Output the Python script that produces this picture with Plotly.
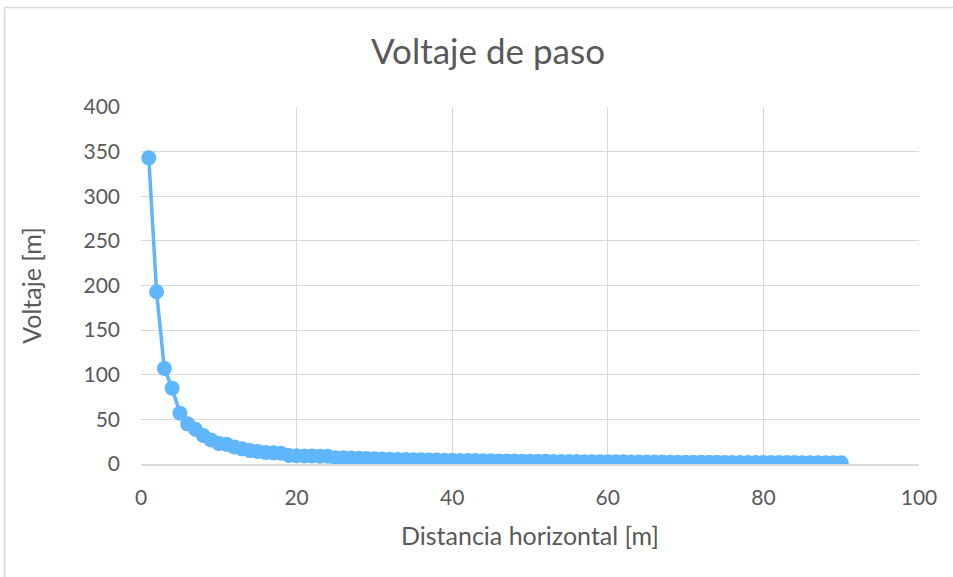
import plotly.graph_objects as go

distancia = list(range(1, 91))
voltaje = [
    343, 193, 107, 85, 57, 45, 39, 32, 27, 23,
    22, 19, 17, 15, 14, 13, 12.5, 12, 9.5, 9.2,
    9.0, 9.0, 8.8, 8.6, 7.0, 6.9, 6.7, 6.5, 6.3, 6.0,
    5.6, 5.3, 5.1, 5.0, 4.9, 4.8, 4.6, 4.4, 4.2, 4.1,
    4.0, 3.9, 3.8, 3.7, 3.6, 3.5, 3.4, 3.3, 3.2, 3.1,
    3.0, 2.95, 2.9, 2.85, 2.8, 2.7, 2.65, 2.6, 2.55, 2.5,
    2.45, 2.4, 2.35, 2.3, 2.25, 2.2, 2.15, 2.1, 2.05, 2.0,
    1.95, 1.9, 1.9, 1.85, 1.8, 1.8, 1.75, 1.7, 1.7, 1.65,
    1.6, 1.6, 1.55, 1.55, 1.5, 1.5, 1.45, 1.45, 1.4, 1.4,
]
x_ticks = [0, 20, 40, 60, 80, 100]
y_ticks = [0, 50, 100, 150, 200, 250, 300, 350, 400]

title_text = "Voltaje de paso"
x_title = "Distancia horizontal [m]"
y_title = "Voltaje [m]"

FONT = "Lato"
TXT = "#595959"
GRID = "#d9d9d9"
BLUE = "#5fb6fd"

fig = go.Figure()
fig.add_trace(go.Scatter(
    x=distancia, y=voltaje, mode="lines+markers",
    line=dict(color=BLUE, width=3.5),
    marker=dict(color=BLUE, size=15, line=dict(width=0)),
    showlegend=False,
))

fig.update_layout(
    width=953, height=577,
    margin=dict(l=141, r=34, t=107, b=113),
    paper_bgcolor="white", plot_bgcolor="white",
    font=dict(family=FONT, color=TXT),
    title=dict(text=title_text, x=488/953, xref="container", xanchor="center",
               y=1 - 52/577, yref="container", yanchor="middle",
               font=dict(size=35, color=TXT, family=FONT)),
    xaxis=dict(range=[0, 100], tickvals=x_ticks, showgrid=True, gridcolor=GRID, gridwidth=1,
               zeroline=False, showline=True, linecolor=GRID, linewidth=2,
               tickfont=dict(size=21, color=TXT), ticks="", ticklabelstandoff=14,
               title=dict(text=x_title, font=dict(size=25, color=TXT), standoff=19)),
    yaxis=dict(range=[0, 400], tickvals=y_ticks, showgrid=True, gridcolor=GRID, gridwidth=1,
               zeroline=False, showline=False,
               tickfont=dict(size=21, color=TXT), ticks="", ticklabelstandoff=20,
               title=dict(text=y_title, font=dict(size=25, color=TXT), standoff=34)),
    shapes=[
        dict(type="rect", xref="paper", yref="paper",
             x0=(4.5 - 141) / 778, x1=1.2, y0=-0.6, y1=(464 - 7.5) / 357,
             line=dict(color=GRID, width=1.5), fillcolor="rgba(0,0,0,0)", layer="below"),
    ],
)

fig.write_html("out.html")
